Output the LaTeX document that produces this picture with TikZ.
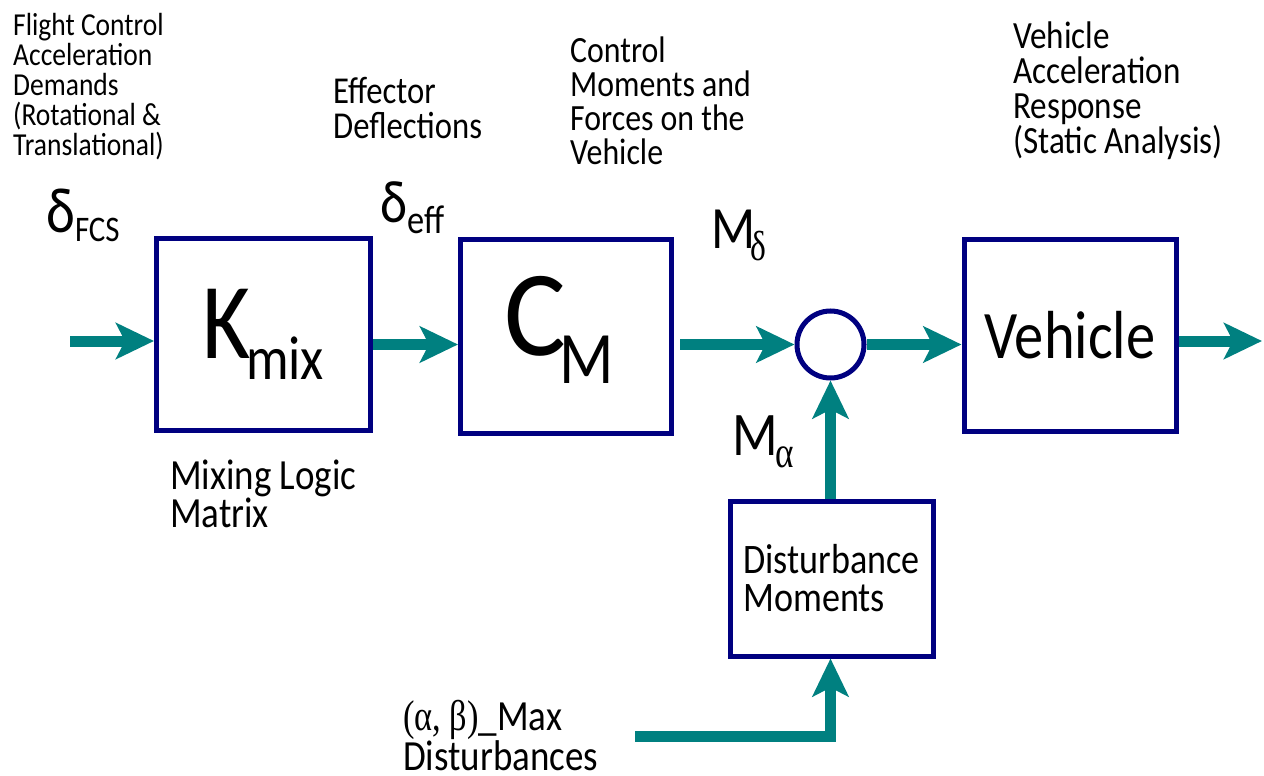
\documentclass[tikz,border=0pt]{standalone}
\usepackage{fontspec}
\setmainfont{Carlito}[FakeStretch=0.86]
\newfontfamily\grk{Liberation Serif}[FakeStretch=0.8]
\usetikzlibrary{arrows.meta}
\definecolor{arrteal}{RGB}{0,128,128}
\definecolor{boxnavy}{RGB}{0,0,128}
\newcommand\fsz[2]{\fontsize{#1}{#2}\selectfont}
\begin{document}
\begin{tikzpicture}[x=1pt,y=-1pt,
  blk/.style={draw=boxnavy, line width=5pt, inner sep=0pt, text=black},
  sig/.style={color=arrteal, line width=11pt, -{Stealth[length=38pt,width=36pt,inset=9pt]}},
  lbl/.style={inner sep=0pt, anchor=north west, align=left}]
\useasboundingbox (0,0) rectangle (1264,776);

% blocks
\node[blk, minimum width=214pt, minimum height=192pt] (kmix) at (263.5,334.5)
  {\fsz{108}{108}K\kern-5pt\raisebox{-21pt}{\fsz{62}{62}mix}};
\node[blk, minimum width=211pt, minimum height=194pt] (cm) at (566,336)
  {\rule[-41pt]{0pt}{1pt}{\fsz{122}{122}\addfontfeature{FakeStretch=0.95}C}\kern-7pt\raisebox{-28pt}{\fsz{74}{74}M}\kern13pt};
\node[blk, minimum width=212pt, minimum height=192pt] (veh) at (1070,335)
  {\fsz{68}{68}Vehicle};
\node[blk, minimum width=203pt, minimum height=155pt, align=left, font=\fsz{42}{38}] (dist) at (831.5,578.5)
  {Disturbance\\Moments};
\node[draw=boxnavy, line width=5pt, circle, minimum size=67pt, inner sep=0pt] (sum) at (830.5,344.5) {};

% connectors
\coordinate (in0) at (70,341);
\coordinate (cmo) at ([xshift=6pt]cm.east);
\coordinate (out0) at (1262,341);
\coordinate (dist0) at (635,736);
\draw[sig] (in0) -- (in0 -| kmix.west);
\draw[sig] (kmix.east |- sum.center) -- (cm.west |- sum.center);
\draw[sig] (cmo |- sum.west) -- (sum.west);
\draw[sig] (sum.east) -- (veh.west |- sum.east);
\draw[sig] (veh.east |- out0) -- (out0);
\draw[sig] (sum.south |- dist.north) -- (sum.south);
\draw[sig] (dist0) -| (sum.south |- dist.south);

% labels
\node[lbl, font=\fsz{32}{30}] (lfcs) at (13,13)
  {Flight Control\\Acceleration\\Demands\\(Rotational \&\\Translational)};
\node[lbl, font=\fsz{38}{35}] (leff) at (333,77) {Effector\\Deflections};
\node[lbl, font=\fsz{37}{34}] (lctl) at (570,37) {Control\\Moments and\\Forces on the\\Vehicle};
\node[lbl, font=\fsz{38.5}{35}] (lvar) at (1013,22) {Vehicle\\Acceleration\\Response\\(Static Analysis)};
\node[lbl, font=\fsz{43}{38}] (lmix) at (170,460) {Mixing Logic\\Matrix};
\node[lbl, font=\fsz{43}{39}] (lmax) at (403,700) {{\grk(α, β)}\_Max\\Disturbances};

% symbols
\node[anchor=base west, inner sep=0pt] (dfcs) at (46,232)
  {{\fsz{64}{64}δ}\raisebox{-9pt}{\fsz{36}{36}FCS}};
\node[anchor=base west, inner sep=0pt] (deff) at (380,222)
  {{\fsz{60}{60}δ}\raisebox{-11pt}{\fsz{40}{40}eff}};
\node[anchor=base west, inner sep=0pt] (mdel) at (711,248)
  {\fsz{60}{60}M\kern-5pt\raisebox{-12pt}{\grk\fsz{42}{42}δ}};
\node[anchor=base west, inner sep=0pt] (malp) at (732,455)
  {\fsz{62}{62}M\kern-2pt\raisebox{-12pt}{\grk\fsz{44}{44}α}};
\end{tikzpicture}
\end{document}
